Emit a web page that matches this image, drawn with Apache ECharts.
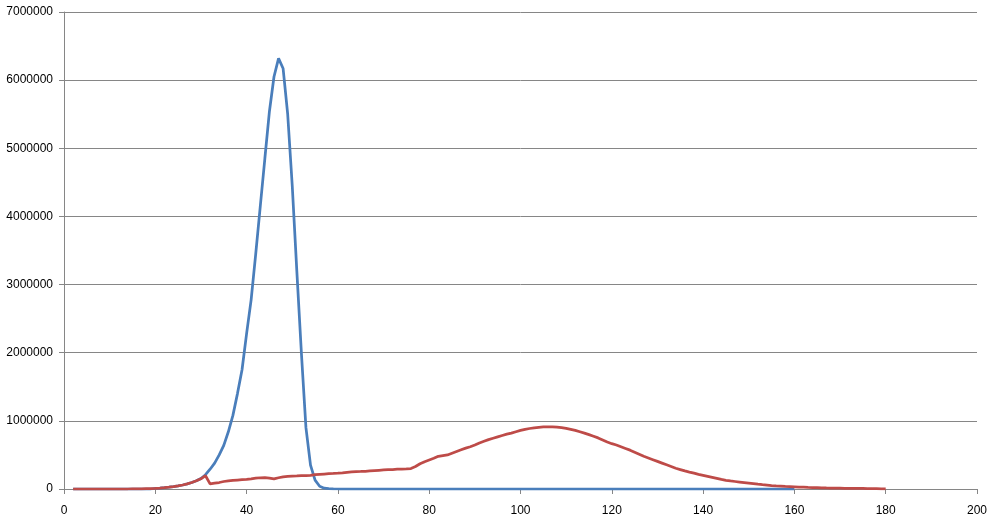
<!DOCTYPE html>
<html>
<head>
<meta charset="utf-8">
<script src="https://cdn.jsdelivr.net/npm/echarts@6/dist/echarts.min.js"></script>
<style>html,body{margin:0;padding:0;background:#fff}#c{width:998px;height:528px}</style>
</head>
<body>
<div id="c"></div>
<script>
var xTicks = [0, 20, 40, 60, 80, 100, 120, 140, 160, 180, 200];
var yTicks = [0, 1000000, 2000000, 3000000, 4000000, 5000000, 6000000, 7000000];

// Series 1 (blue): x = 2..160
var blueStart = 2;
var blueValues = [
  0,0,0,0,0,0,0,0,0,0,0,0,0,0,0,0,0,0,          // 2-19
  10000,14000,19000,26000,35000,46000,59000,75000,95000,120000, // 20-29
  155000,210000,290000,380000,500000,640000,840000,1080000,1400000,1750000, // 30-39
  2280000,2780000,3450000,4150000,4850000,5540000,6050000,6320000,6170000,5500000, // 40-49
  4450000,3200000,2000000,900000,350000,130000,40000,12000,4000,1000, // 50-59
  0,0,0,0,0,0,0,0,0,0, 0,0,0,0,0,0,0,0,0,0, 0,0,0,0,0,0,0,0,0,0, 0,0,0,0,0,0,0,0,0,0, // 60-99
  0,0,0,0,0,0,0,0,0,0, 0,0,0,0,0,0,0,0,0,0, 0,0,0,0,0,0,0,0,0,0, 0,0,0,0,0,0,0,0,0,0, // 100-139
  0,0,0,0,0,0,0,0,0,0, 0,0,0,0,0,0,0,0,0,0, 0   // 140-160
];

// Series 2 (red): x = 2..180
var redStart = 2;
var redValues = [
  0,0,0,0,0,0,0,0,0,0,0,0,0,1000,2000,3000,5000,7000, // 2-19
  10000,14000,19000,26000,35000,46000,59000,75000,95000,120000, // 20-29
  150000,195000,75000,85000,95000,110000,120000,128000,132000,136000, // 30-39
  140000,148000,158000,165000,168000,160000,148000,165000,178000,185000, // 40-49
  190000,192000,195000,198000,200000,210000,215000,220000,225000,228000, // 50-59
  232000,238000,245000,250000,255000,257000,260000,265000,270000,275000, // 60-69
  280000,283000,286000,290000,293000,296000,300000,330000,370000,400000, // 70-79
  425000,450000,480000,490000,500000,525000,550000,575000,600000,620000, // 80-89
  645000,675000,700000,725000,745000,765000,785000,805000,820000,840000, // 90-99
  860000,875000,888000,898000,905000,910000,912000,912000,908000,900000, // 100-109
  890000,875000,860000,840000,820000,798000,775000,750000,720000,690000, // 110-119
  665000,645000,620000,595000,570000,540000,510000,480000,455000,430000, // 120-129
  405000,380000,355000,330000,305000,285000,265000,248000,232000,215000, // 130-139
  200000,185000,170000,155000,140000,128000,118000,110000,102000,94000, // 140-149
  86000,78000,70000,63000,57000,51000,46000,42000,38000,35000, // 150-159
  32000,29000,26000,23000,21000,19000,17000,15000,14000,13000, // 160-169
  12000,11000,10000,9000,8500,8000,7000,6000,5000,3000, // 170-179
  1000 // 180
];

function pairs(start, vals) {
  return vals.map(function (v, i) { return [start + i, v]; });
}

var chart = echarts.init(document.getElementById('c'), null, {renderer: 'canvas'});
var axisColor = '#868686';
chart.setOption({
  animation: false,
  backgroundColor: '#ffffff',
  grid: {left: 64, right: 21, top: 12, bottom: 39, containLabel: false},
  xAxis: {
    type: 'value', min: xTicks[0], max: xTicks[xTicks.length - 1], interval: 20,
    axisLine: {show: true, onZero: false, lineStyle: {color: axisColor, width: 1}},
    axisTick: {show: true, length: 5, lineStyle: {color: axisColor}},
    axisLabel: {color: '#000', fontFamily: 'Liberation Sans, Arial, sans-serif', fontSize: 12, margin: 16},
    splitLine: {show: false}
  },
  yAxis: {
    type: 'value', min: yTicks[0], max: yTicks[yTicks.length - 1], interval: 1000000,
    axisLine: {show: true, lineStyle: {color: axisColor, width: 1}},
    axisTick: {show: true, length: 5, lineStyle: {color: axisColor}},
    axisLabel: {color: '#000', fontFamily: 'Liberation Sans, Arial, sans-serif', fontSize: 12, margin: 11,
      formatter: function (v) { return String(v); }},
    splitLine: {show: true, lineStyle: {color: axisColor, width: 1}}
  },
  series: [
    {type: 'line', data: pairs(blueStart, blueValues), showSymbol: false, symbol: 'none',
      lineStyle: {color: '#4A7EBB', width: 2.75}, itemStyle: {color: '#4A7EBB'}},
    {type: 'line', data: pairs(redStart, redValues), showSymbol: false, symbol: 'none',
      lineStyle: {color: '#BE4B48', width: 2.75}, itemStyle: {color: '#BE4B48'}}
  ]
});
</script>
</body>
</html>
